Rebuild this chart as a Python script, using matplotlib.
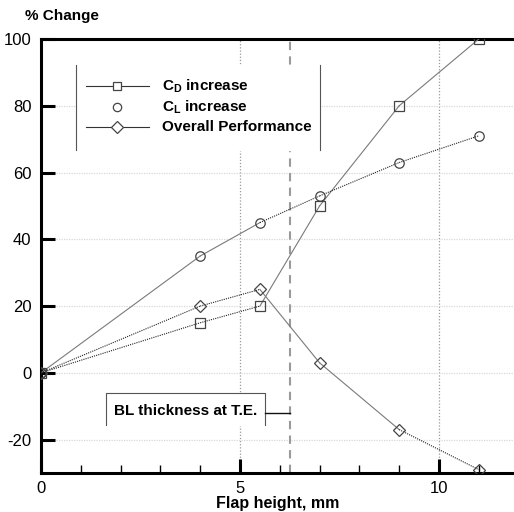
import matplotlib
matplotlib.use("Agg")
import matplotlib.pyplot as plt

plt.rcParams["font.family"] = ["Liberation Sans", "DejaVu Sans"]
plt.rcParams["mathtext.fontset"] = "custom"
plt.rcParams["mathtext.rm"] = "Liberation Sans"
plt.rcParams["mathtext.bf"] = "Liberation Sans:bold"
plt.rcParams["axes.unicode_minus"] = False

# flap height (mm) and % change
flap_h = [0, 4, 5.5, 7, 9, 11]
cd_inc = [0, 15, 20, 50, 80, 100]
cl_inc = [0, 35, 45, 53, 63, 71]
overall = [0, 20, 25, 3, -17, -29]
bl_thickness = 6.26

x_ticks = [0, 5, 10]
y_ticks = [-20, 0, 20, 40, 60, 80, 100]

SOLID = dict(ls="-", color="#7a7a7a", lw=0.8)
DOTTED = dict(ls=(0, (1, 1)), color="#222222", lw=0.8)

series = [
    (cd_inc, "s", [DOTTED, DOTTED, SOLID, SOLID, SOLID]),
    (cl_inc, "o", [SOLID, SOLID, DOTTED, DOTTED, DOTTED]),
    (overall, "D", [DOTTED, DOTTED, SOLID, SOLID, DOTTED]),
]

fig = plt.figure(figsize=(5.14, 5.12), dpi=100)
ax = fig.add_axes([41 / 514, 39 / 512, 473 / 514, 434 / 512])

ax.set_xlim(0, 473 / 39.8)
ax.set_ylim(-30, 100)

for yv, mk, styles in series:
    for i in range(len(flap_h) - 1):
        ax.plot(flap_h[i:i + 2], yv[i:i + 2], zorder=3, **styles[i])
    ax.plot(flap_h, yv, ls="none", marker=mk, ms=6.8 if mk != "D" else 6.3,
            mfc="none", mec="#444444", mew=0.9, zorder=4)

# reference lines
ax.axvline(bl_thickness, color="#9a9a9a", ls=(0, (4, 3)), lw=1.5, zorder=2)
ax.xaxis.grid(True, ls=(0, (1, 1.5)), color="#9a9a9a", lw=0.9)
ax.yaxis.grid(True, ls=(0, (1, 1)), color="#d8d8d8", lw=0.9)
ax.set_axisbelow(True)

ax.set_xticks(x_ticks)
ax.set_xticks(range(0, 12), minor=True)
ax.set_yticks(y_ticks)
ax.tick_params(axis="both", which="major", direction="in", length=10, width=2.2,
               labelsize=12, pad=6)
ax.tick_params(axis="x", which="minor", direction="in", length=6, width=1.0)
ax.tick_params(axis="y", pad=7)

for s in ["left", "bottom", "top"]:
    ax.spines[s].set_linewidth(2.2)
ax.spines["right"].set_visible(False)

ax.set_xlabel("Flap height, mm", fontsize=11.5, fontweight="bold", labelpad=0)
fig.text(25 / 514, 1 - 16 / 512, "% Change", fontsize=11, fontweight="bold",
         ha="left", va="center")

# legend panel with side rules only
T = ax.transAxes
ax.fill_between([0.074, 0.590], 0.744, 0.940, transform=T, color="white", zorder=5)
for lx in (0.074, 0.590):
    ax.plot([lx, lx], [0.744, 0.940], transform=T, color="#555555", lw=0.8,
            zorder=6, clip_on=False)

entries = [
    ("s", True, r"$\mathbf{C_D}$ increase"),
    ("o", False, r"$\mathbf{C_L}$ increase"),
    ("D", True, "Overall Performance"),
]
rows = [0.892, 0.843, 0.797]
for (mk, with_line, label), ry in zip(entries, rows):
    if with_line:
        ax.plot([0.095, 0.228], [ry, ry], transform=T, color="#333333", lw=0.8, zorder=6)
    ax.plot([0.161], [ry], transform=T, ls="none", marker=mk, ms=6 if mk != "D" else 6,
            mfc="white", mec="#444444", mew=0.9, zorder=7)
    ax.text(0.256, ry, label, transform=T, fontsize=11, fontweight="bold",
            ha="left", va="center", zorder=7)

# boundary layer thickness label
ax.fill_between([0.137, 0.474], 0.111, 0.184, transform=T, color="white", zorder=5)
ax.plot([0.137, 0.137, 0.474, 0.474], [0.111, 0.184, 0.184, 0.111], transform=T,
        color="#555555", lw=0.8, zorder=6)
ax.text(0.155, 0.143, "BL thickness at T.E.", transform=T, fontsize=11,
        fontweight="bold", ha="left", va="center", zorder=7)
ax.plot([0.474, bl_thickness / ax.get_xlim()[1]], [0.138, 0.138], transform=T,
        color="#111111", lw=1.0, zorder=6)

fig.savefig("out.png", dpi=100)
